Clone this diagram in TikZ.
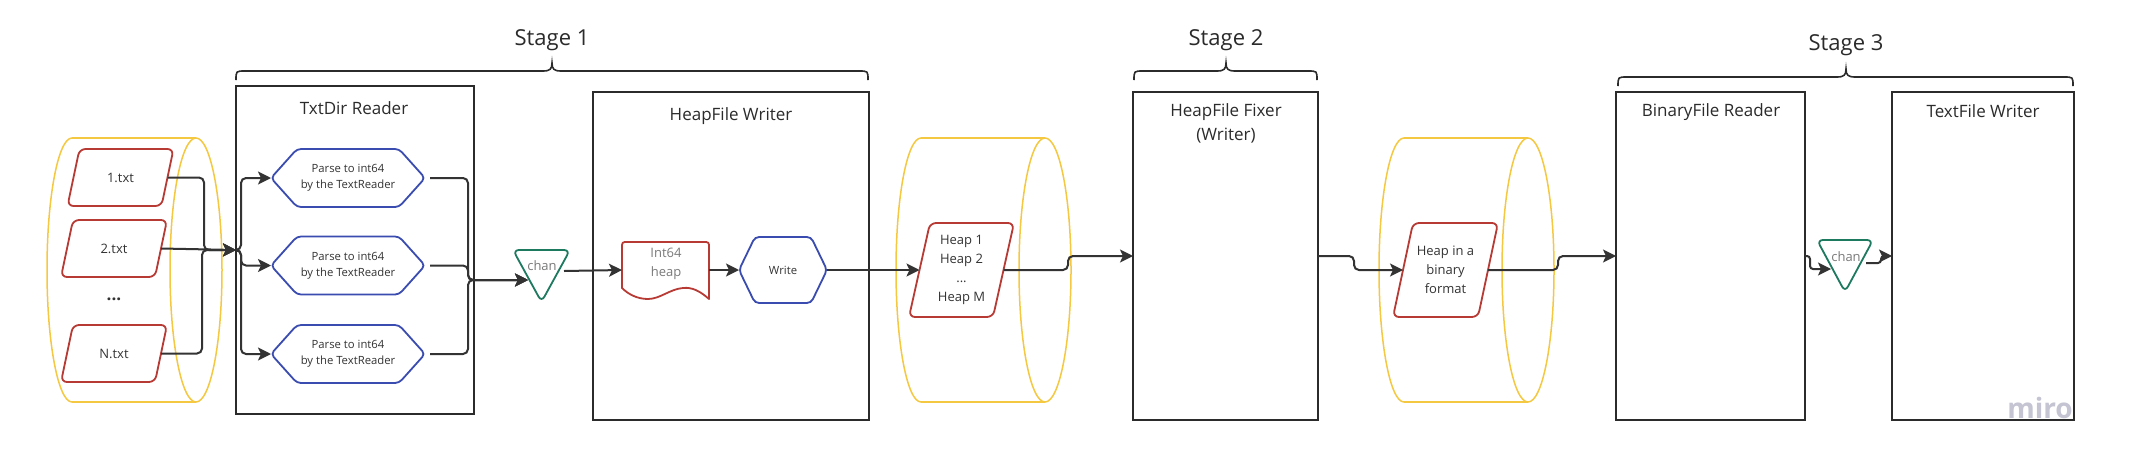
\documentclass[tikz,border=0pt]{standalone}
\usepackage{fontspec}
\setmainfont{Open Sans}
\usetikzlibrary{arrows.meta,calc}
\definecolor{cyl}{HTML}{F5C842}
\definecolor{rd}{HTML}{B83A34}
\definecolor{bl}{HTML}{3B4CB0}
\definecolor{gr}{HTML}{1E7A5E}
\definecolor{dk}{HTML}{2B2B2B}
\definecolor{ln}{HTML}{333333}
\definecolor{gt}{HTML}{7A7A7A}
\definecolor{wm}{HTML}{C4C4D2}
\newcommand\paral[2]{\draw[redline] ($(#1.south west)+(-#2,0)$) -- ($(#1.north west)+(#2,0)$) -- ($(#1.north east)+(#2,0)$) -- ($(#1.south east)+(-#2,0)$) -- cycle;}
\newcommand\hexa[2]{\draw[blueline] (#1.west) -- ($(#1.north west)+(#2,0)$) -- ($(#1.north east)+(-#2,0)$) -- (#1.east) -- ($(#1.south east)+(-#2,0)$) -- ($(#1.south west)+(#2,0)$) -- cycle;}
\newcommand\tri[1]{\draw[greenline] (#1.north west) -- (#1.north east) -- (#1.south) -- cycle;}
\newcommand\cylshape[2]{%
  \draw[cylline] (#1,138) -- (#2,138);
  \draw[cylline] (#1,402) -- (#2,402);
  \draw[cylline] (#2,270) ellipse [x radius=26, y radius=132];
  \begin{scope}\clip (#1-40,100) rectangle (#1,440);
    \draw[cylline] (#1,270) ellipse [x radius=25, y radius=132];
  \end{scope}}
\newcommand\stagebrace[4]{\draw[brc] (#1,#4+9) .. controls (#1,#4) .. (#1+9,#4) -- (#2-9,#4) .. controls (#2-2,#4) and (#2,#4-2) .. (#2,#4-8) .. controls (#2,#4-2) and (#2+2,#4) .. (#2+9,#4) -- (#3-9,#4) .. controls (#3,#4) .. (#3,#4+9);}
\begin{document}
\begin{tikzpicture}[x=1pt,y=-1pt,
 box/.style={draw=dk,line width=2pt,rectangle,inner sep=0pt,outer sep=0pt,minimum height=328pt},
 ttl/.style={font=\fontsize{17}{24}\selectfont,text=dk,align=center},
 geo/.style={rectangle,inner sep=0pt,outer sep=0pt},
 redline/.style={draw=rd,line width=1.8pt,rounded corners=6pt},
 blueline/.style={draw=bl,line width=1.8pt,rounded corners=4pt},
 greenline/.style={draw=gr,line width=1.8pt,rounded corners=6pt},
 cylline/.style={draw=cyl,line width=1.5pt},
 conn/.style={draw=ln,line width=2pt,rounded corners=5pt,-{Stealth[length=13pt,width=13pt,inset=3pt]}},
 brc/.style={draw=dk,line width=1.6pt},
 small/.style={font=\fontsize{11.3}{16}\selectfont,text=ln,align=center},
 med/.style={font=\fontsize{13}{19}\selectfont,text=ln,align=center},
 stg/.style={font=\fontsize{22}{26}\selectfont,text=dk},
]
\fill[white] (0,0) rectangle (2131,469);
\useasboundingbox (0,0) rectangle (2131,469);

% cylinders
\cylshape{72}{196}
\cylshape{921}{1045}
\cylshape{1404}{1528}

% stage braces
\stagebrace{236}{552}{868}{71}
\stagebrace{1134}{1226}{1317}{71}
\stagebrace{1618}{1846}{2073}{77}
\node[stg] (s1) at (552,40) {Stage 1};
\node[stg] (s2) at (1226,40) {Stage 2};
\node[stg] (s3) at (1846,45) {Stage 3};

% boxes
\node[box,minimum width=238pt] (txtdir) at (355,250) {};
\node[ttl] (txtdirt) at (354,108) {TxtDir Reader};
\node[box,minimum width=276pt] (hfw) at (731,256) {};
\node[ttl] (hfwt) at (731,116) {HeapFile Writer};
\node[box,minimum width=185pt] (fixer) at (1225.5,256) {};
\node[ttl] (fixert) at (1226,123) {HeapFile Fixer\\(Writer)};
\node[box,minimum width=189pt] (binrd) at (1710.5,256) {};
\node[ttl] (binrdt) at (1711,112) {BinaryFile Reader};
\node[box,minimum width=182pt] (tw) at (1983,256) {};
\node[ttl] (twt) at (1983,111) {TextFile Writer};

% files
\node[geo,med,minimum width=94pt,minimum height=57pt] (f1) at (120.5,177.5) {1.txt};
\node[geo,med,minimum width=94pt,minimum height=57pt] (f2) at (114,248.5) {2.txt};
\node[geo,font=\fontsize{17}{20}\selectfont\bfseries,text=ln] (dots) at (114,299) {...};
\node[geo,med,minimum width=94pt,minimum height=57pt] (fN) at (114,353.5) {N.txt};
\paral{f1}{6}
\paral{f2}{6}
\paral{fN}{6}

% parse hexagons
\node[geo,small,minimum width=154pt,minimum height=58pt] (p1) at (348,178) {Parse to int64\\by the TextReader};
\node[geo,small,minimum width=154pt,minimum height=58pt] (p2) at (348,265.5) {Parse to int64\\by the TextReader};
\node[geo,small,minimum width=154pt,minimum height=58pt] (p3) at (348,354) {Parse to int64\\by the TextReader};
\hexa{p1}{26}
\hexa{p2}{26}
\hexa{p3}{26}

% chan 1
\node[geo,minimum width=57pt,minimum height=52pt] (c1) at (541.5,276) {};
\tri{c1}
\node[med,text=gt] (c1t) at (542,266) {chan};

% doc Int64 heap
\node[geo,minimum width=87pt,minimum height=56pt] (doc) at (665.5,270) {};
\draw[draw=rd,line width=1.8pt,line join=round] (622,288) -- (622,248) .. controls (622,242) .. (628,242) -- (703,242) .. controls (709,242) .. (709,248) -- (709,299) .. controls (700,291) and (692,287) .. (683,288) .. controls (670,289) and (660,299) .. (648,299) .. controls (637,299) and (628,294) .. (622,288) -- cycle;
\node[med,text=gt] (doct) at (666,264) {Int64\\heap};

% write hexagon
\node[geo,small,minimum width=88pt,minimum height=66pt] (wr) at (783,270) {Write};
\hexa{wr}{16}

% heap parallelogram
\node[geo,med,minimum width=84pt,minimum height=94pt] (heap) at (961.5,270) {Heap 1\\Heap 2\\...\\Heap M};
\paral{heap}{10.5}

% binary parallelogram
\node[geo,med,minimum width=85pt,minimum height=94pt] (bin) at (1445.5,270) {Heap in a\\binary\\format};
\paral{bin}{10}

% chan 2
\node[geo,minimum width=56pt,minimum height=52pt] (c2) at (1845,266) {};
\tri{c2}
\node[med,text=gt] (c2t) at (1846,257) {chan};

% connectors
\coordinate (fx1) at (204,250);
\coordinate (fx2) at (202,250);
\draw[conn] (f1.east) -| (fx1) -- (txtdir.west);
\draw[conn] (f2.east) -- (txtdir.west);
\draw[conn] (fN.east) -| (fx2) -- (txtdir.west);

\coordinate (sp) at (241,250);
\draw[conn] (txtdir.west) -- (sp) |- (p1.west);
\draw[conn] (txtdir.west) -- (sp) |- (p2.west);
\draw[conn] (txtdir.west) -- (sp) |- (p3.west);

\coordinate (mx) at (468,280);
\coordinate (c1in) at (528,280);
\draw[conn] ([xshift=5pt]p1.east) -| (mx) -- (c1in);
\draw[conn] ([xshift=5pt]p2.east) -| (mx) -- (c1in);
\draw[conn] ([xshift=5pt]p3.east) -| (mx) -- (c1in);

\coordinate (c1out) at (564,271);
\draw[conn] (c1out) -- (doc.west);
\draw[conn] (doc.east) -- (wr.west);
\draw[conn] (wr.east) -- (heap.west);

\coordinate (j1) at (1068,270);
\draw[conn] (heap.east) -- (j1) |- (fixer.west);
\coordinate (j2) at (1354,256);
\draw[conn] (fixer.east) -- (j2) |- (bin.west);
\coordinate (j3) at (1558,270);
\draw[conn] (bin.east) -- (j3) |- (binrd.west);
\coordinate (j4) at (1810,256);
\coordinate (c2in) at (1831,269);
\draw[conn,rounded corners=3pt] (binrd.east) -- (j4) |- (c2in);
\coordinate (c2out) at (1866,263);
\coordinate (j5) at (1881,263);
\draw[conn,rounded corners=3pt] (c2out) -- (j5) |- (tw.west);

% watermark
\node[font=\fontsize{28}{28}\selectfont\bfseries,text=wm,anchor=base] (miro) at (2040,418) {miro};
\end{tikzpicture}
\end{document}
